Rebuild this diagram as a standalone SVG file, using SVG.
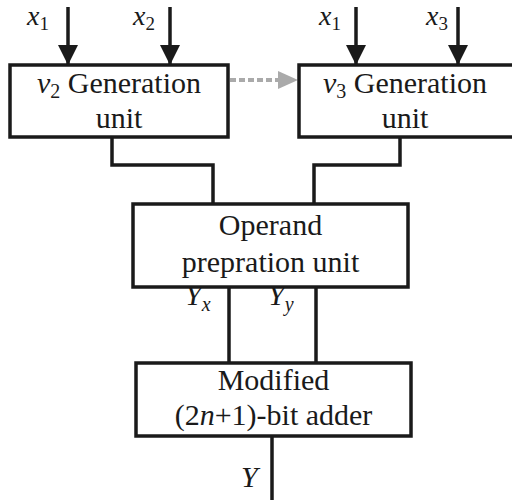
<svg xmlns="http://www.w3.org/2000/svg" width="512" height="502" viewBox="0 0 512 502">
<style>
.box{fill:#fff;stroke:#1a1a1a;stroke-width:3.5}
.w{fill:none;stroke:#1a1a1a;stroke-width:3.5}
text{font-family:"Liberation Serif","Times New Roman",Times,Tinos,"Nimbus Roman","Nimbus Roman No9 L",FreeSerif,"Noto Serif","DejaVu Serif",Georgia,serif;font-size:30px;fill:#1a1a1a}
.i{font-style:italic}
</style>
<defs>
<marker id="ah" markerUnits="userSpaceOnUse" markerWidth="20" markerHeight="20" refX="20" refY="10" orient="auto" viewBox="0 0 20 20">
<path d="M0,0 L20,10 L0,20 Z" fill="#1a1a1a"/>
</marker>
</defs>
<rect width="512" height="502" fill="#fff"/>
<g id="connectors">
<line class="w" x1="68" y1="7" x2="68" y2="65" marker-end="url(#ah)"/>
<line class="w" x1="170" y1="7" x2="170" y2="65" marker-end="url(#ah)"/>
<line class="w" x1="356" y1="7" x2="356" y2="65" marker-end="url(#ah)"/>
<line class="w" x1="458" y1="7" x2="458" y2="65" marker-end="url(#ah)"/>
<line x1="230" y1="80" x2="279" y2="80" stroke="#aaa" stroke-width="4" stroke-dasharray="6 3"/>
<path d="M278,71 L298,80 L278,89 Z" fill="#aaa"/>
<polyline class="w" points="112,137 112,165 213,165 213,204"/>
<polyline class="w" points="400,137 400,165 314,165 314,204"/>
<line class="w" x1="229" y1="287" x2="229" y2="363"/>
<line class="w" x1="316" y1="287" x2="316" y2="363"/>
<line class="w" x1="272" y1="436" x2="272" y2="500"/>
</g>
<g id="labels">
<text class="i" x="27" y="25" style="font-size:28px">x<tspan font-size="19" font-style="normal" dy="5">1</tspan></text>
<text class="i" x="133" y="25" style="font-size:28px">x<tspan font-size="19" font-style="normal" dy="5">2</tspan></text>
<text class="i" x="319" y="25" style="font-size:28px">x<tspan font-size="19" font-style="normal" dy="5">1</tspan></text>
<text class="i" x="426" y="25" style="font-size:28px">x<tspan font-size="19" font-style="normal" dy="5">3</tspan></text>
<text class="i" x="185" y="305">Y<tspan font-size="20" dy="6">x</tspan></text>
<text class="i" x="268" y="305">Y<tspan font-size="20" dy="6">y</tspan></text>
<text class="i" x="241" y="487">Y</text>
</g>
<g id="v2gen">
<rect class="box" x="10" y="65" width="218" height="72"/>
<text x="119" y="93" text-anchor="middle"><tspan class="i">v</tspan><tspan font-size="20" dy="5">2</tspan><tspan dy="-5"> Generation</tspan></text>
<text x="119" y="128" text-anchor="middle">unit</text>
</g>
<g id="v3gen">
<rect class="box" x="299" y="65" width="218" height="72"/>
<text x="405" y="93" text-anchor="middle"><tspan class="i">v</tspan><tspan font-size="20" dy="5">3</tspan><tspan dy="-5"> Generation</tspan></text>
<text x="405" y="128" text-anchor="middle">unit</text>
</g>
<g id="operand">
<rect class="box" x="133" y="204" width="275" height="83"/>
<text x="270.5" y="235" text-anchor="middle">Operand</text>
<text x="270.5" y="272" text-anchor="middle">prepration unit</text>
</g>
<g id="adder">
<rect class="box" x="136" y="363" width="275" height="73"/>
<text x="273.5" y="390" text-anchor="middle">Modified</text>
<text x="273.5" y="425" text-anchor="middle">(2<tspan class="i">n</tspan>+1)-bit adder</text>
</g>
</svg>
